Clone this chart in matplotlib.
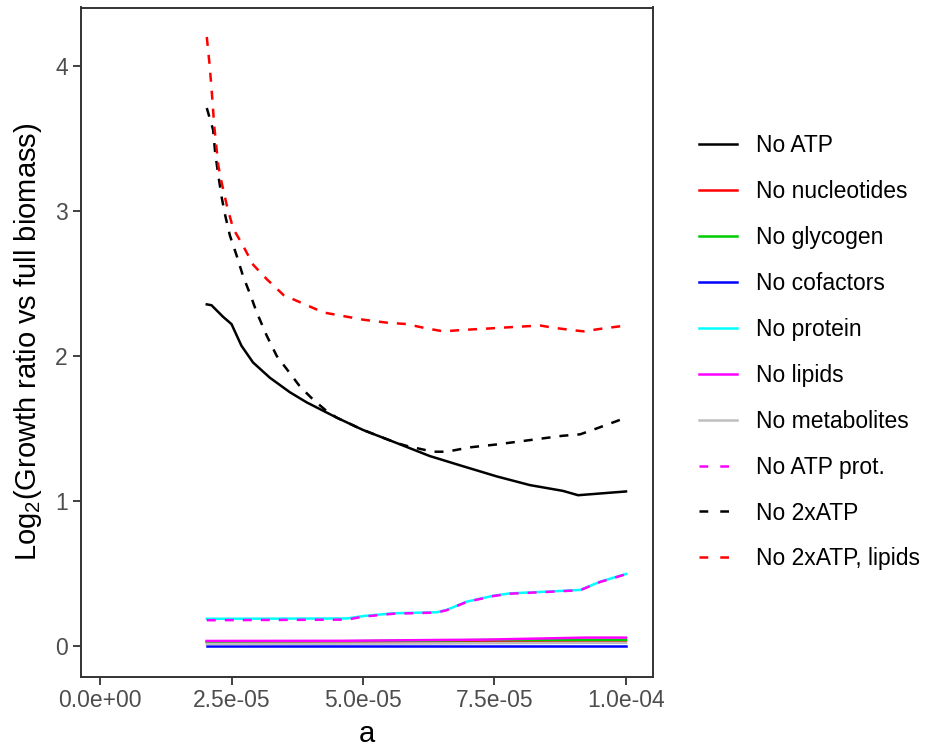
import matplotlib
matplotlib.use('Agg')
import matplotlib.pyplot as plt
from matplotlib.lines import Line2D

plt.rcParams['font.family'] = ['Liberation Sans', 'DejaVu Sans']
plt.rcParams['mathtext.fontset'] = 'custom'
plt.rcParams['mathtext.rm'] = 'Liberation Sans'
plt.rcParams['mathtext.it'] = 'Liberation Sans:italic'

# values (x in units of 1e-5)
no_atp_x = [2.03, 2.12, 2.34, 2.50, 2.69, 2.91, 3.23, 3.42, 3.61, 3.93, 4.50,
            5.00, 5.64, 6.27, 6.90, 7.54, 8.17, 8.80, 9.09, 9.44, 10.0]
no_atp_y = [2.356, 2.35, 2.27, 2.22, 2.07, 1.955, 1.85, 1.80, 1.75, 1.68, 1.575,
            1.49, 1.40, 1.31, 1.24, 1.17, 1.11, 1.07, 1.04, 1.05, 1.066]

flat_x = [2.03, 4.6, 6.5, 7.3, 9.2, 10.0]
nucleotides_y = [0.028, 0.030, 0.032, 0.034, 0.036, 0.036]
glycogen_y = [0.030, 0.033, 0.038, 0.042, 0.042, 0.042]
cofactors_y = [0.0, 0.0, 0.0, 0.0, 0.0, 0.0]
lipids_y = [0.035, 0.036, 0.042, 0.044, 0.058, 0.058]
metabolites_y = [0.014, 0.016, 0.018, 0.020, 0.022, 0.022]

protein_x = [2.03, 4.69, 5.01, 5.58, 6.40, 6.59, 6.97, 7.48, 7.79, 8.49, 9.13, 9.51, 10.0]
protein_y = [0.188, 0.19, 0.207, 0.226, 0.233, 0.249, 0.306, 0.347, 0.363, 0.375, 0.387, 0.444, 0.497]
atp_prot_y = [0.178, 0.182, 0.203, 0.223, 0.231, 0.247, 0.304, 0.345, 0.361, 0.373, 0.385, 0.442, 0.495]

atp2_x = [2.03, 2.15, 2.19, 2.24, 2.31, 2.38, 2.47, 2.60, 2.72, 2.85, 2.98, 3.17,
          3.36, 3.55, 3.80, 4.05, 4.31, 4.50, 5.00, 5.64, 5.83, 6.33, 6.59, 7.03,
          7.54, 8.17, 8.80, 9.13, 9.44, 9.89, 10.0]
atp2_y = [3.71, 3.56, 3.40, 3.27, 3.10, 2.97, 2.83, 2.69, 2.55, 2.43, 2.30, 2.14,
          2.00, 1.91, 1.79, 1.70, 1.62, 1.575, 1.49, 1.40, 1.38, 1.34, 1.34, 1.37,
          1.39, 1.42, 1.45, 1.46, 1.50, 1.56, 1.58]

atp2_lip_x = [2.03, 2.08, 2.11, 2.14, 2.17, 2.21, 2.25, 2.31, 2.41, 2.53, 2.72,
              2.91, 3.17, 3.49, 3.87, 4.25, 4.63, 5.01, 5.45, 5.83, 6.21, 6.53,
              6.91, 7.41, 7.86, 8.37, 8.62, 8.94, 9.19, 9.57, 10.0]
atp2_lip_y = [4.20, 4.02, 3.89, 3.75, 3.59, 3.45, 3.31, 3.20, 3.04, 2.88, 2.76,
              2.63, 2.53, 2.42, 2.36, 2.30, 2.275, 2.25, 2.23, 2.22, 2.19, 2.17,
              2.18, 2.19, 2.20, 2.21, 2.195, 2.18, 2.17, 2.19, 2.21]

series = [
    ('No ATP', no_atp_x, no_atp_y, 'black', '-'),
    ('No nucleotides', flat_x, nucleotides_y, 'red', '-'),
    ('No glycogen', flat_x, glycogen_y, '#00CD00', '-'),
    ('No cofactors', flat_x, cofactors_y, 'blue', '-'),
    ('No protein', protein_x, protein_y, 'cyan', '-'),
    ('No lipids', flat_x, lipids_y, 'magenta', '-'),
    ('No metabolites', flat_x, metabolites_y, '#BEBEBE', '-'),
    ('No ATP prot.', protein_x, atp_prot_y, 'magenta', '--'),
    ('No 2xATP', atp2_x, atp2_y, 'black', '--'),
    ('No 2xATP, lipids', atp2_lip_x, atp2_lip_y, 'red', '--'),
]

LW = 1.8

fig = plt.figure(figsize=(9.35, 7.47), dpi=100)
ax = fig.add_axes([80.5 / 935, (747 - 676.5) / 747, 572 / 935, 669 / 747])

for label, xs, ys, col, ls in series:
    xv = [v * 1e-5 for v in xs]
    if ls == '--':
        ax.plot(xv, ys, color=col, lw=LW, dashes=(3.6, 3.6), label=label)
    else:
        ax.plot(xv, ys, color=col, lw=LW, label=label)

ax.set_xlim(-3.71e-6, 1.0504e-4)
ax.set_ylim(-0.210, 4.403)
ax.set_xticks([0, 2.5e-5, 5e-5, 7.5e-5, 1e-4])
ax.set_xticklabels(['0.0e+00', '2.5e-05', '5.0e-05', '7.5e-05', '1.0e-04'])
ax.set_yticks([0, 1, 2, 3, 4])
ax.tick_params(direction='out', length=6, width=1.3, color='#333333',
               labelsize=16.5, labelcolor='#4D4D4D', pad=3)
for sp in ax.spines.values():
    sp.set_color('#333333')
    sp.set_linewidth(1.4)

ax.set_xlabel('a', fontsize=21, labelpad=6)
ax.set_ylabel('Log$_2$(Growth ratio vs full biomass)', fontsize=21, labelpad=8)

# legend keys, ggplot style
leg_handles = []
for label, xs, ys, col, ls in series:
    if ls == '--':
        leg_handles.append(Line2D([], [], color=col, lw=LW, dashes=(3.5, 4.8)))
    else:
        leg_handles.append(Line2D([], [], color=col, lw=LW))

fig.legend(leg_handles, [s[0] for s in series], loc='upper left',
           bbox_to_anchor=(690 / 935, 1 - 125 / 747), frameon=False,
           fontsize=16.5, handlelength=1.65, handletextpad=0.85,
           labelspacing=1.0, borderaxespad=0)

fig.savefig('out.png', dpi=100)
